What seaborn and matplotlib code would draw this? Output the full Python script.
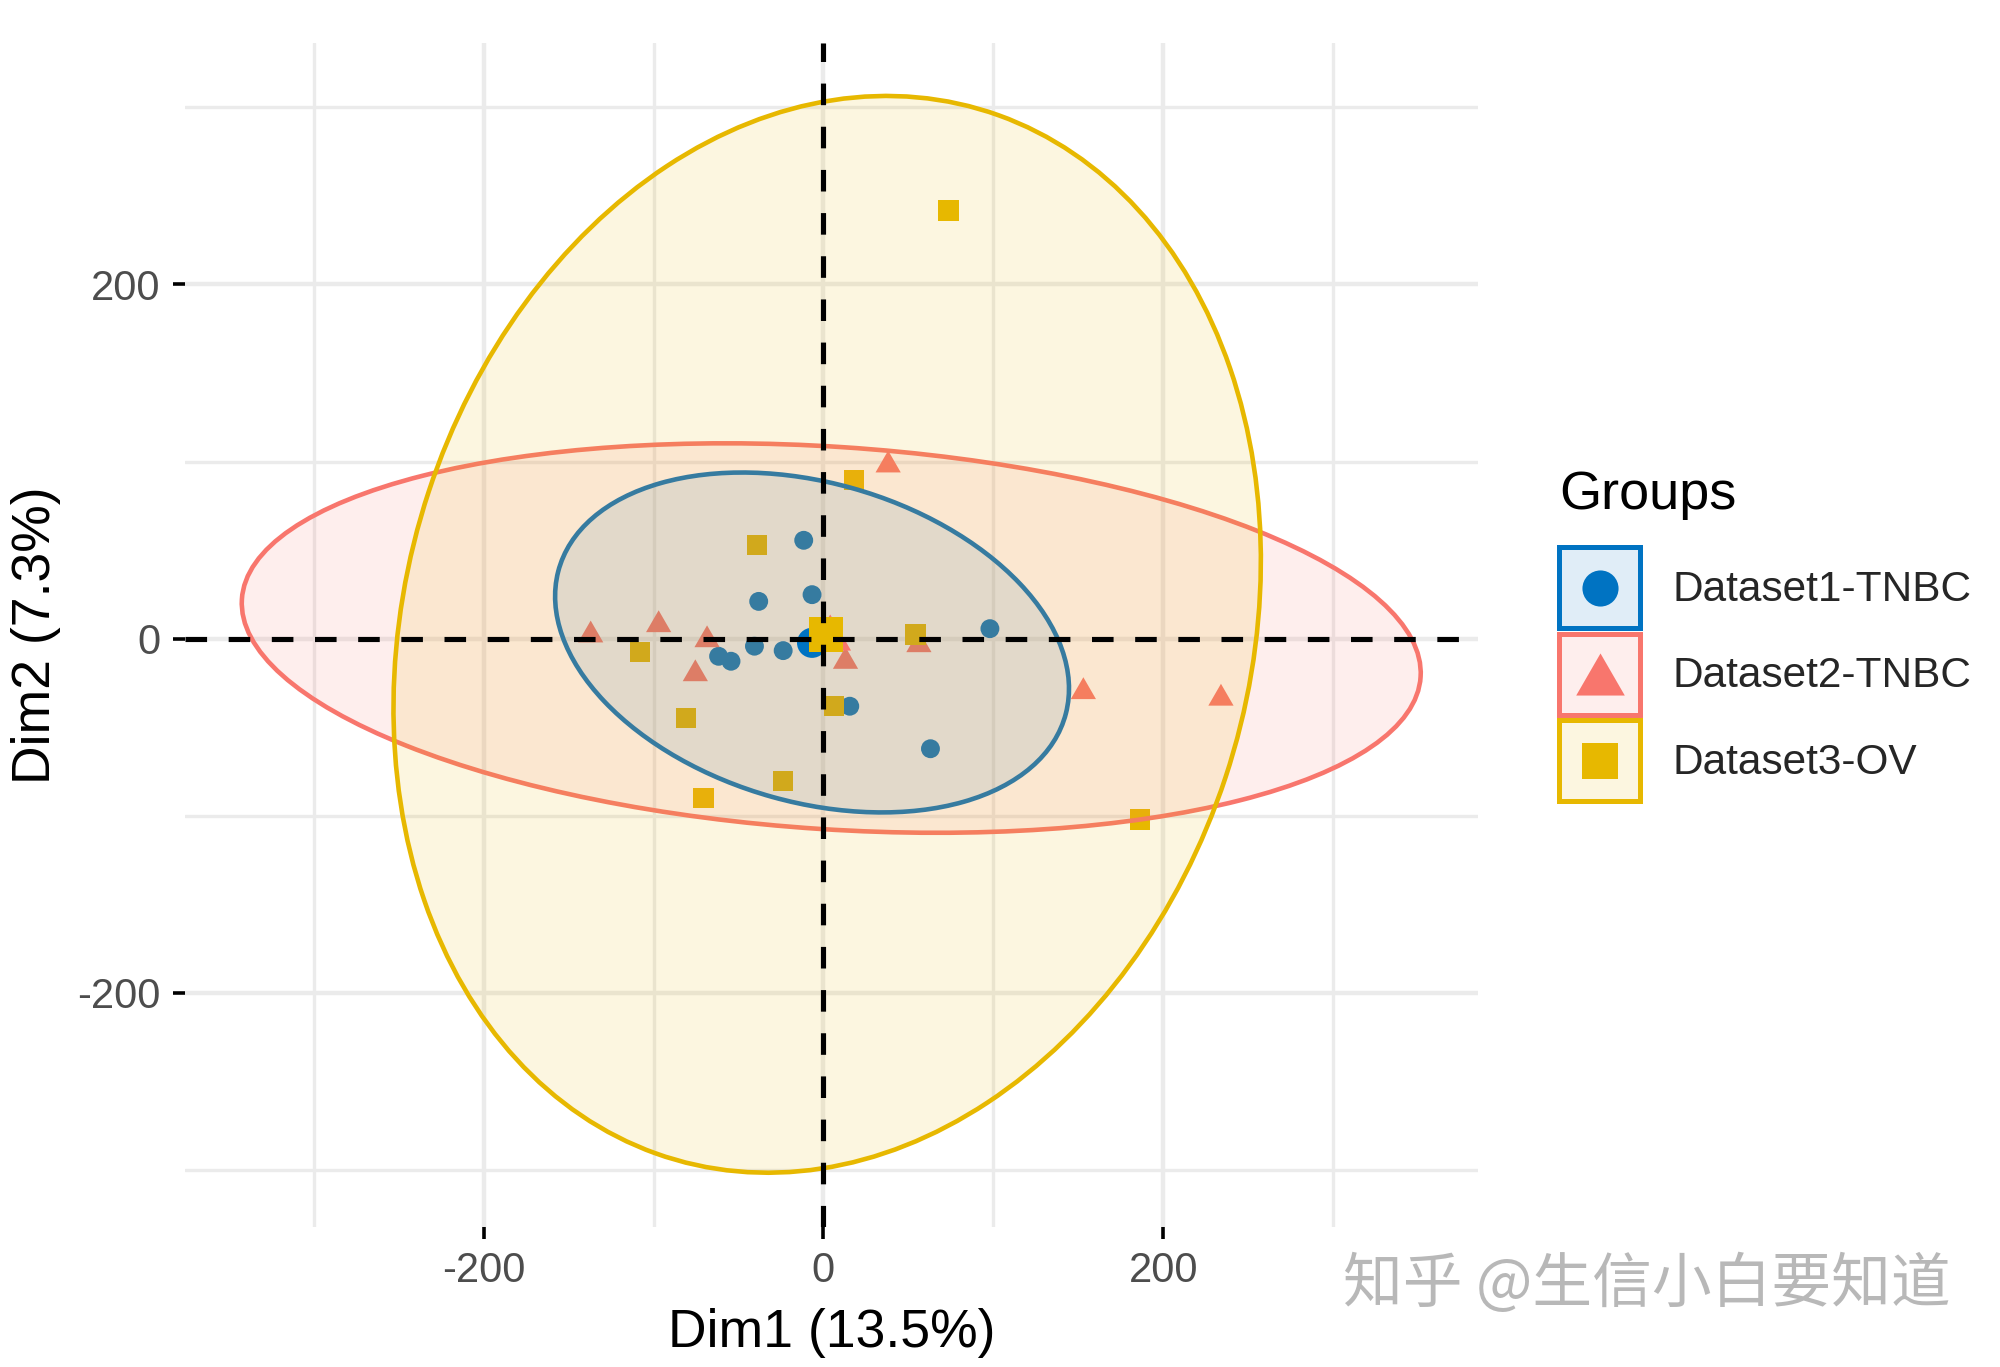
import numpy as np
import pandas as pd
import matplotlib
matplotlib.use("Agg")
import matplotlib.pyplot as plt
import seaborn as sns
from matplotlib.patches import Ellipse, Rectangle
from matplotlib.lines import Line2D
from matplotlib.path import Path
from matplotlib.legend_handler import HandlerBase
from matplotlib.colors import to_rgba

# ---------------- data ----------------
groups = ["Dataset1-TNBC", "Dataset2-TNBC", "Dataset3-OV"]

blue_x = [-11.6, -38.1, -6.7, -61.7, -54.4, -40.6, -23.7, 15.5, 63.0, 98.0]
blue_y = [55.5, 21.0, 24.8, -10.0, -12.8, -4.3, -6.8, -38.2, -62.2, 5.6]

red_x = [-137.0, -97.0, -68.5, -75.4, 13.0, 38.1, 56.2, 153.0, 234.0]
red_y = [4.0, 9.8, 1.3, -17.9, -10.9, 100.0, -1.5, -28.0, -31.7]

yellow_x = [-39.0, -107.8, 6.1, -80.9, -23.7, -70.5, 17.9, 54.2, 73.7, 186.5]
yellow_y = [53.0, -7.5, -38.2, -45.0, -80.5, -89.9, 89.7, 2.3, 241.7, -102.2]

# group centres (mean points)
mean_x = [-6.7, 4.0, 1.6]
mean_y = [-2.4, 3.4, 2.3]

# concentration ellipses: centre, semi-axes, rotation (deg)
ell_cx = [-6.7, 4.6, 2.2]
ell_cy = [-2.2, 0.3, 2.4]
ell_a = [154.7, 347.6, 310.0]
ell_b = [90.3, 108.0, 248.0]
ell_angle = [-15.0, -3.6, 71.0]

x_ticks = [-200, 0, 200]
y_ticks = [-200, 0, 200]
tick_labels = ["-200", "0", "200"]
x_label = "Dim1 (13.5%)"
y_label = "Dim2 (7.3%)"
legend_title = "Groups"
watermark = "知乎 @生信小白要知道"

# ---------------- styling ----------------
colors = {"Dataset1-TNBC": "#0073C2", "Dataset2-TNBC": "#F8766D", "Dataset3-OV": "#E7B800"}
tri = Path([(0, 0.433), (-0.5, -0.433), (0.5, -0.433), (0, 0.433)],
           [Path.MOVETO, Path.LINETO, Path.LINETO, Path.CLOSEPOLY])
markers = {"Dataset1-TNBC": "o", "Dataset2-TNBC": tri, "Dataset3-OV": "s"}
pt_sizes = {"Dataset1-TNBC": 185, "Dataset2-TNBC": 330, "Dataset3-OV": 215}
mean_sizes = {"Dataset1-TNBC": 470, "Dataset2-TNBC": 900, "Dataset3-OV": 600}
leg_ms = {"Dataset1-TNBC": 26, "Dataset2-TNBC": 35, "Dataset3-OV": 26}

sns.set_theme(style="white")
plt.rcParams['font.family'] = ['Liberation Sans', 'DejaVu Sans']
plt.rcParams['axes.unicode_minus'] = False

df = pd.DataFrame({
    "Dim1": blue_x + red_x + yellow_x,
    "Dim2": blue_y + red_y + yellow_y,
    "Groups": [groups[0]] * len(blue_x) + [groups[1]] * len(red_x) + [groups[2]] * len(yellow_x),
})
df_mean = pd.DataFrame({"Dim1": mean_x, "Dim2": mean_y, "Groups": groups})

fig = plt.figure(figsize=(20, 13.67), dpi=100)
ax = fig.add_axes([0.0925, 0.1024, 0.6465, 0.8661])

# individual points
sns.scatterplot(data=df, x="Dim1", y="Dim2", hue="Groups", style="Groups", size="Groups",
                hue_order=groups, style_order=groups, size_order=groups,
                palette=colors, markers=markers, sizes=pt_sizes,
                linewidth=0, legend=False, ax=ax, zorder=2)

# ellipses
for i, g in enumerate(groups):
    c = colors[g]
    e = Ellipse((ell_cx[i], ell_cy[i]), width=2 * ell_a[i], height=2 * ell_b[i],
                angle=ell_angle[i], facecolor=to_rgba(c, 0.12), edgecolor=c,
                linewidth=3.3, zorder=3)
    ax.add_patch(e)

# mean points
sns.scatterplot(data=df_mean, x="Dim1", y="Dim2", hue="Groups", style="Groups", size="Groups",
                hue_order=groups, style_order=groups, size_order=groups,
                palette=colors, markers=markers, sizes=mean_sizes,
                linewidth=0, legend=False, ax=ax, zorder=4)

# reference lines
ax.axhline(0, color="black", lw=3.7, ls=(0, (4.2, 4.2)), zorder=5)
ax.axvline(0, color="black", lw=3.7, ls=(0, (4.2, 4.2)), zorder=5)

ax.set_xlim(-375.8, 385.3)
ax.set_ylim(-332.3, 336.3)

ax.set_xticks(x_ticks)
ax.set_xticklabels(tick_labels)
ax.set_yticks(y_ticks)
ax.set_yticklabels(tick_labels)
ax.set_xticks([-300, -100, 100, 300], minor=True)
ax.set_yticks([-300, -100, 100, 300], minor=True)
ax.set_axisbelow(True)
ax.grid(which="major", color="#EBEBEB", lw=3.2)
ax.grid(which="minor", color="#EBEBEB", lw=2.4)
ax.tick_params(which="major", length=8.5, width=2.6, color="black",
               labelsize=30, labelcolor="#4D4D4D", pad=9, direction="out",
               bottom=True, left=True)
ax.tick_params(which="minor", length=0)
for s in ax.spines.values():
    s.set_visible(False)

ax.set_xlabel(x_label, fontsize=38.5, color="black", labelpad=12)
ax.set_ylabel(y_label, fontsize=38.5, color="black", labelpad=12)


# legend: coloured key box with the group's marker centred inside
class BoxMarkerHandler(HandlerBase):
    def create_artists(self, legend, orig_handle, xdescent, ydescent, width, height,
                       fontsize, trans):
        c, mk, ms = orig_handle.color, orig_handle.marker, orig_handle.ms
        r = Rectangle((-xdescent, -ydescent), width, height, facecolor=to_rgba(c, 0.12),
                      edgecolor=c, linewidth=3.6, transform=trans)
        m = Line2D([width / 2 - xdescent], [height / 2 - ydescent], ls="none", marker=mk,
                   ms=ms, color=c, markeredgewidth=0, transform=trans)
        return [r, m]


class KeySpec:
    def __init__(self, color, marker, ms):
        self.color, self.marker, self.ms = color, marker, ms


handles = [KeySpec(colors[g], markers[g], leg_ms[g]) for g in groups]
leg = ax.legend(handles, groups, handler_map={KeySpec: BoxMarkerHandler()},
                loc="upper left", bbox_to_anchor=(0.7795, 1 - 547 / 1367),
                bbox_transform=fig.transFigure, frameon=False, fontsize=30.5,
                handlelength=1.92, handleheight=2.58,
                handletextpad=0.75, labelspacing=0.12, borderpad=0, borderaxespad=0)
fig.text(1559 / 2000, 1 - 495 / 1367, legend_title, fontsize=39, color="black",
         ha="left", va="center")

fig.text(1343 / 2000, 1 - 1285 / 1367, watermark,
         family=['Noto Sans CJK SC', 'DejaVu Sans'], fontsize=43,
         color="#B8B8B8", ha="left", va="center")

fig.savefig("out.png", dpi=100)
